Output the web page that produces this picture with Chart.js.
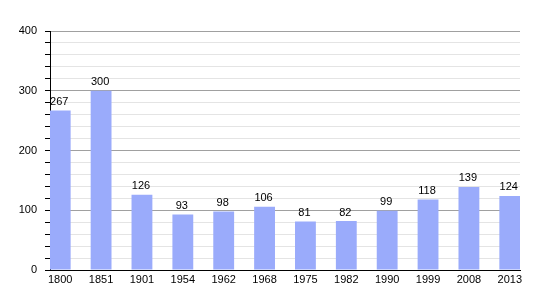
<!DOCTYPE html>
<html>
<head>
<meta charset="utf-8">
<script src="https://cdn.jsdelivr.net/npm/chart.js@4"></script>
<style>
  body { margin: 0; background: #fff; }
  canvas { display: block; }
</style>
</head>
<body>
<canvas id="popChart" width="550" height="300"></canvas>
<script>
const years = ["1800", "1851", "1901", "1954", "1962", "1968", "1975", "1982", "1990", "1999", "2008", "2013"];
const population = [267, 300, 126, 93, 98, 106, 81, 82, 99, 118, 139, 124];
const yTicks = [0, 100, 200, 300, 400];

const FONT = "'Liberation Sans', Arial, sans-serif";

// numbers above each bar
const barLabels = {
  id: "barLabels",
  afterDatasetsDraw(chart) {
    const ctx = chart.ctx;
    const meta = chart.getDatasetMeta(0);
    ctx.save();
    ctx.font = "11px " + FONT;
    ctx.fillStyle = "#000";
    ctx.textAlign = "center";
    ctx.textBaseline = "bottom";
    meta.data.forEach((bar, i) => {
      ctx.fillText(String(population[i]), bar.x - 1, bar.y - 3);
    });
    ctx.restore();
  }
};

const ctx = document.getElementById("popChart").getContext("2d");
new Chart(ctx, {
  type: "bar",
  data: {
    datasets: [{
      data: population.map((v, i) => ({ x: i, y: v })),
      backgroundColor: "#9aabfb",
      borderWidth: 0,
      barPercentage: 0.51,
      categoryPercentage: 1
    }]
  },
  options: {
    responsive: false,
    animation: false,
    layout: { padding: { left: 0, right: 30, top: 31, bottom: 0 } },
    plugins: {
      legend: { display: false },
      tooltip: { enabled: false }
    },
    scales: {
      x: {
        type: "linear",
        offset: false,
        min: -0.25,
        max: 11.25,
        afterFit(scale) { scale.height = 30; },
        grid: { display: false, drawTicks: false },
        border: { display: true, color: "#000", width: 1 },
        ticks: {
          stepSize: 1,
          includeBounds: false,
          autoSkip: false,
          maxRotation: 0,
          padding: 3,
          color: "#000",
          font: { family: FONT, size: 11 },
          callback: (v) => Number.isInteger(v) && years[v] ? years[v] : ""
        }
      },
      y: {
        min: 0,
        max: 400,
        afterFit(scale) { scale.width = 50; },
        grid: {
          color: (c) => yTicks.includes(c.tick.value) ? "#a0a0a0" : "#e4e4e4",
          tickColor: "#000",
          tickLength: 5,
          drawTicks: true
        },
        border: { display: true, color: "#000", width: 1 },
        ticks: {
          stepSize: 20,
          maxTicksLimit: 30,
          autoSkip: false,
          padding: 8,
          color: "#000",
          font: { family: FONT, size: 11 },
          callback: (v) => yTicks.includes(v) ? String(v) : ""
        }
      }
    }
  },
  plugins: [barLabels]
});
</script>
</body>
</html>
